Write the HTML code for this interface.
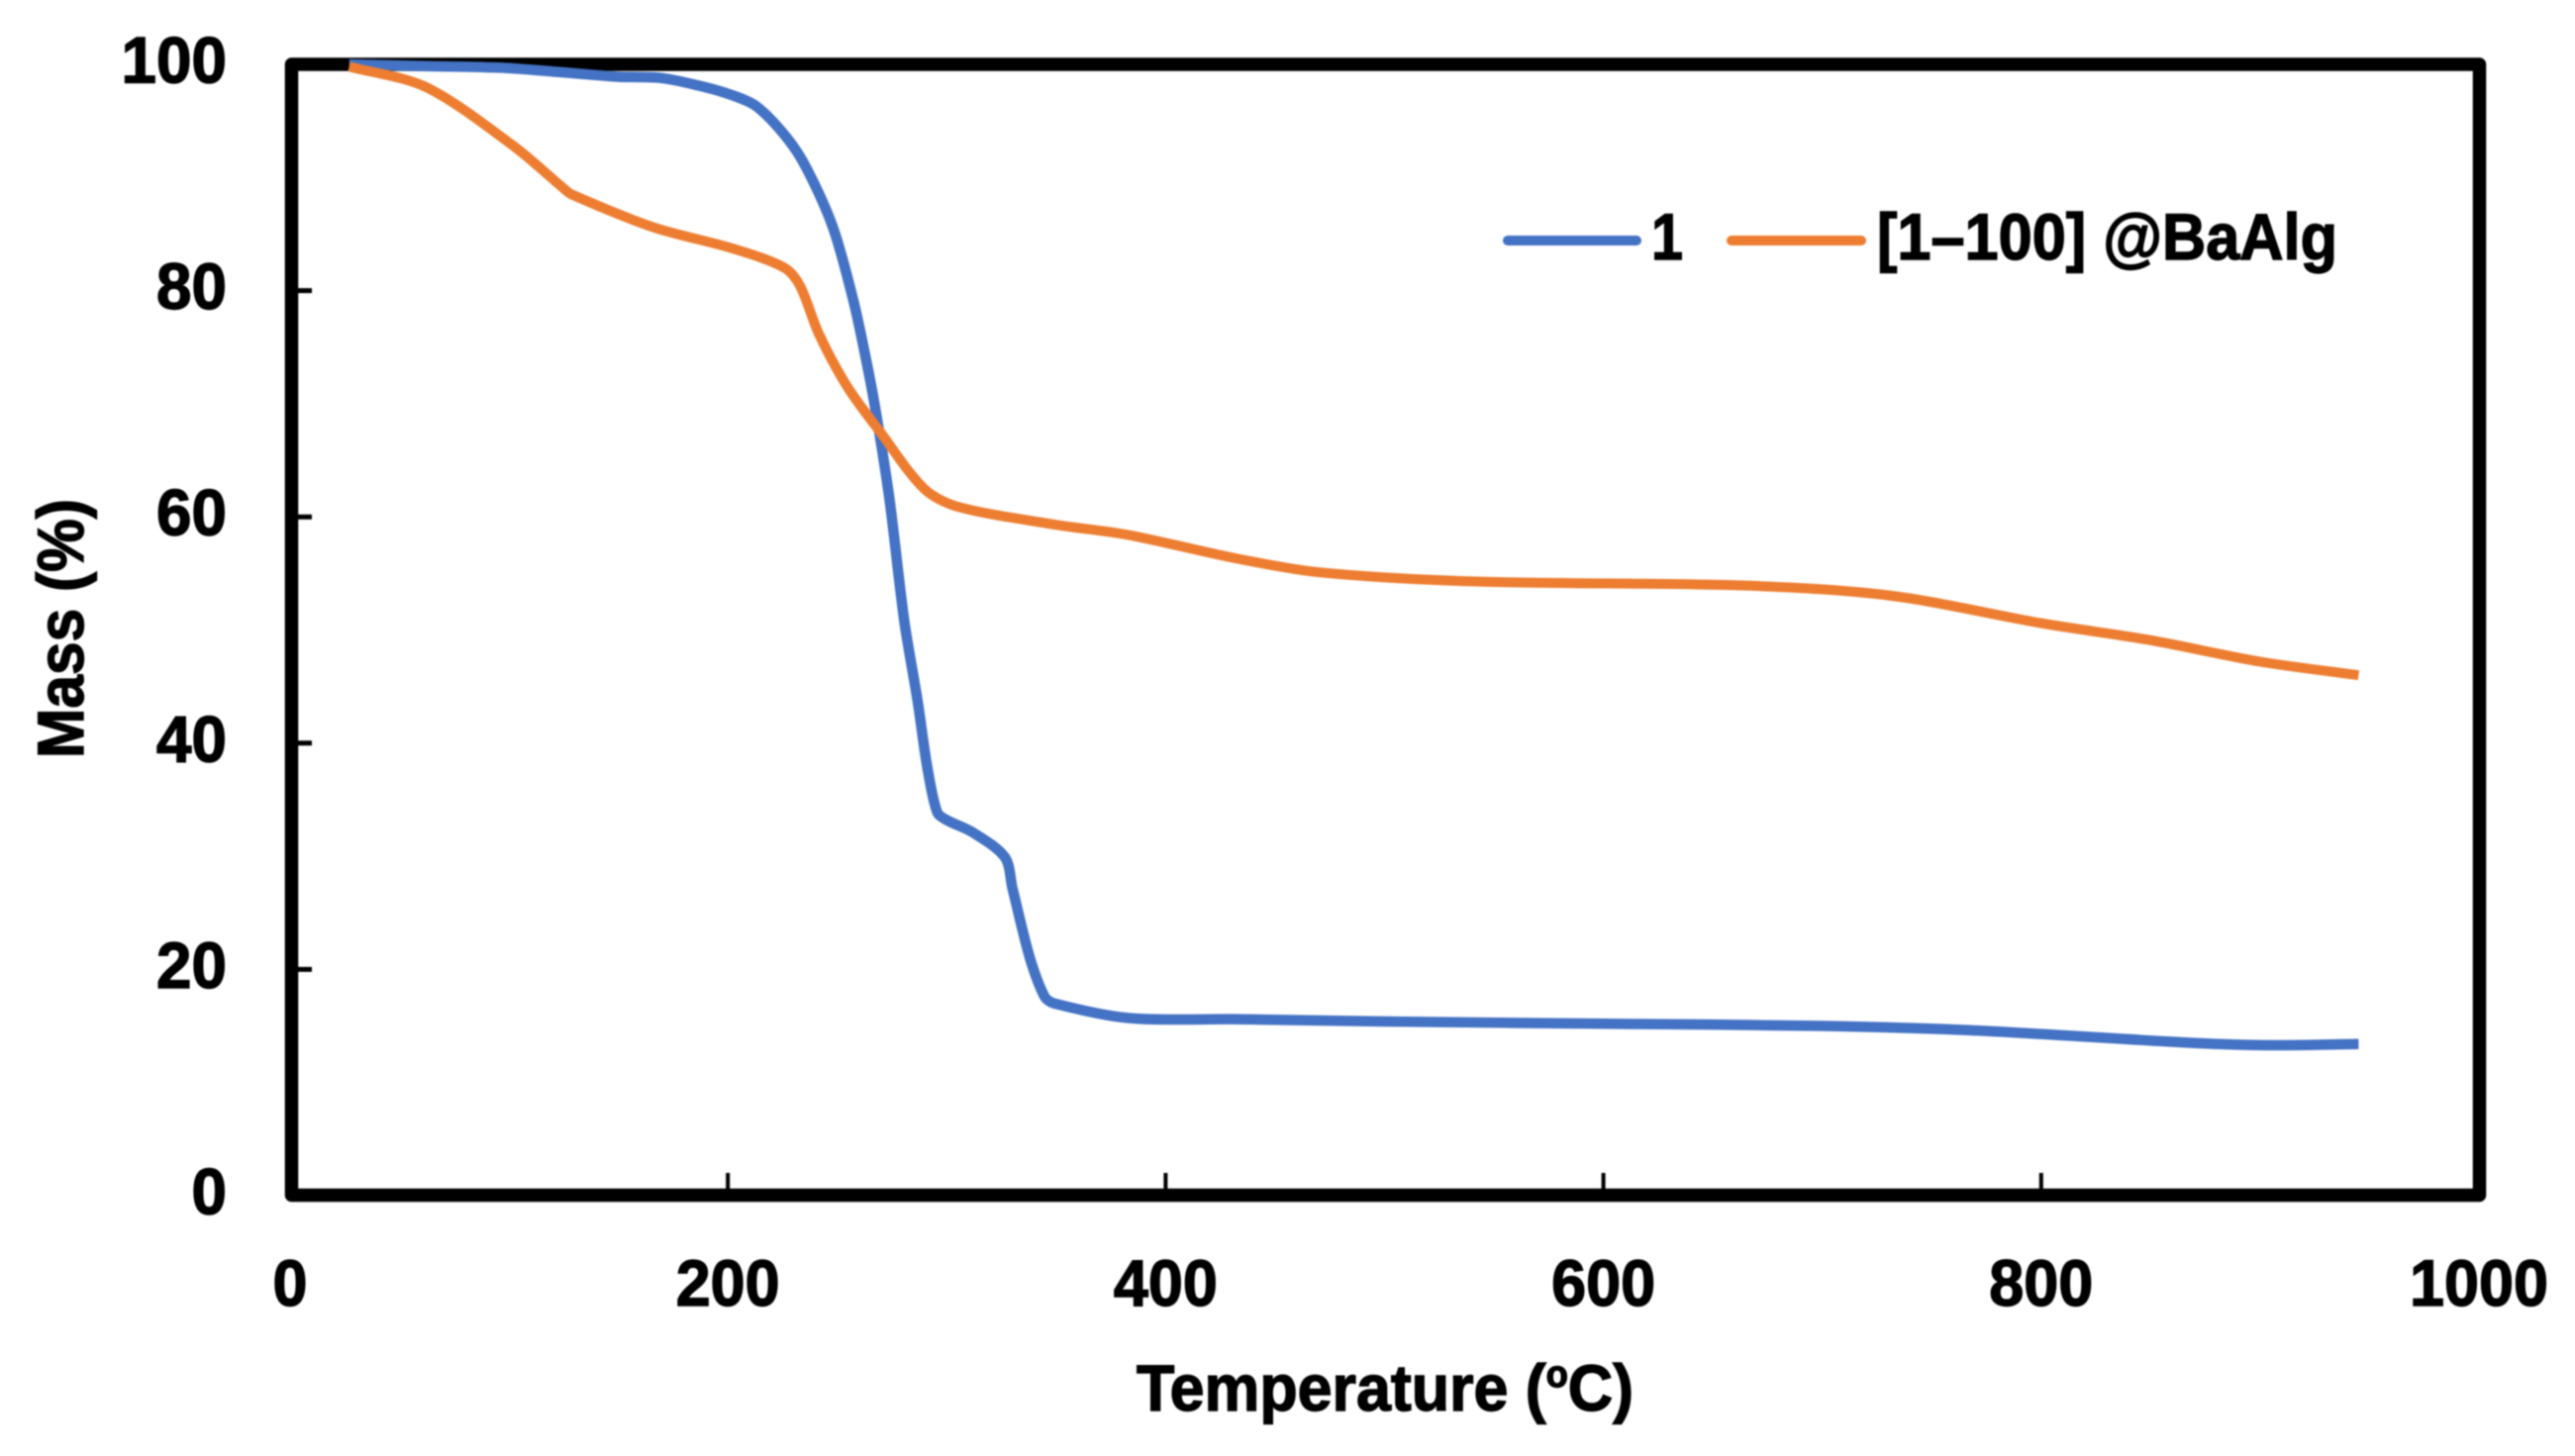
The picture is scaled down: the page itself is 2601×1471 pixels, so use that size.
<!DOCTYPE html>
<html>
<head>
<meta charset="utf-8">
<title>TGA curves</title>
<style>
html,body{margin:0;padding:0;background:#fff;}
svg{display:block;filter:blur(0.7px);}
text{font-family:"Liberation Sans",sans-serif;font-weight:bold;fill:#000;stroke:#000;stroke-width:1.4px;}
</style>
</head>
<body>
<svg id="chart" xmlns="http://www.w3.org/2000/svg" width="2601" height="1471" viewBox="0 0 2601 1471">
  <rect x="0" y="0" width="2601" height="1471" fill="#ffffff"/>
  <g id="ticks"></g>
  <rect x="294.5" y="65" width="2210" height="1142.5" fill="none" stroke="#000" stroke-width="13.5" stroke-linejoin="round"/>
  <g id="labels"></g>
  <g id="series"></g>
  <text x="1148" y="1425" font-size="66" textLength="502" lengthAdjust="spacingAndGlyphs">Temperature (<tspan font-size="38" dy="-24">o</tspan><tspan dy="24">C)</tspan></text>
  <text transform="translate(84,766) rotate(-90)" x="0" y="0" font-size="66" textLength="262" lengthAdjust="spacingAndGlyphs">Mass (%)</text>
  <g>
    <line x1="1523" y1="243" x2="1653" y2="243" stroke="#4472C4" stroke-width="10" stroke-linecap="round"/>
    <text x="1668" y="262" font-size="66" textLength="32" lengthAdjust="spacingAndGlyphs">1</text>
    <line x1="1749" y1="243" x2="1880" y2="243" stroke="#ED7D31" stroke-width="10" stroke-linecap="round"/>
    <text x="1896" y="262" font-size="66" textLength="465" lengthAdjust="spacingAndGlyphs">[1–100] @BaAlg</text>
  </g>
</svg>
<script>
const xTicks = [0, 200, 400, 600, 800, 1000];
const yTicks = [0, 20, 40, 60, 80, 100];
const blueTemps = [27, 60, 96, 130, 150, 169, 185, 200, 213, 227, 236, 248, 257, 262, 267, 273.8, 280.6, 286.7, 291, 295.6, 300, 312, 326.6, 330, 338, 344.7, 349, 383, 433, 500, 600, 700, 770, 870, 905, 945];
const blueMass = [100, 99.85, 99.7, 99.2, 98.9, 98.8, 98.2, 97.4, 96.3, 93.5, 90.8, 85.6, 79.4, 75, 70, 61.6, 50.8, 43.7, 38, 33.9, 33.2, 32.1, 29.9, 27.2, 21, 17.6, 17, 15.7, 15.6, 15.4, 15.2, 15, 14.6, 13.5, 13.3, 13.4];
const orangeTemps = [27, 62, 102, 124.6, 128.6, 166, 202.6, 226, 233, 241.5, 254.6, 270, 289.6, 305, 350, 383, 433, 470, 540, 650, 700, 740, 800, 850, 900, 945];
const orangeMass = [99.8, 98, 92.8, 89.1, 88.5, 85.6, 83.7, 82, 80.4, 76.2, 71.5, 67.4, 62.5, 60.9, 59.3, 58.4, 56.3, 55.1, 54.3, 54, 53.6, 52.8, 50.6, 49.1, 47.2, 46];

const SVG_NS = 'http://www.w3.org/2000/svg';
function xScale(v) { return 293 + 2.211 * v; }
function yScale(v) { return 1208 - 11.43 * v; }

const ticksGroup = document.getElementById('ticks');
const labelsGroup = document.getElementById('labels');
const seriesGroup = document.getElementById('series');

xTicks.forEach(function (t) {
  const tick = document.createElementNS(SVG_NS, 'line');
  
  
  tick.setAttribute('x1', xScale(t));
  tick.setAttribute('x2', xScale(t));
  tick.setAttribute('y1', 1185);
  tick.setAttribute('y2', 1205);
  tick.setAttribute('stroke', '#000');
  tick.setAttribute('stroke-width', 4);
  ticksGroup.appendChild(tick);

  const label = document.createElementNS(SVG_NS, 'text');
  
  
  const text = String(t);
  const w = text.length * 35;
  label.setAttribute('x', xScale(t) - w / 2);
  label.setAttribute('y', 1319);
  label.setAttribute('font-size', 66);
  label.setAttribute('textLength', w);
  label.setAttribute('lengthAdjust', 'spacingAndGlyphs');
  label.textContent = text;
  labelsGroup.appendChild(label);
});

yTicks.forEach(function (t) {
  const tick = document.createElementNS(SVG_NS, 'line');
  
  
  tick.setAttribute('x1', 297);
  tick.setAttribute('x2', 315);
  tick.setAttribute('y1', yScale(t));
  tick.setAttribute('y2', yScale(t));
  tick.setAttribute('stroke', '#000');
  tick.setAttribute('stroke-width', 5);
  ticksGroup.appendChild(tick);

  const label = document.createElementNS(SVG_NS, 'text');
  
  
  const text = String(t);
  const w = text.length * 35.5;
  label.setAttribute('x', 229 - w);
  label.setAttribute('y', yScale(t) + 18.5);
  label.setAttribute('font-size', 66);
  label.setAttribute('textLength', w);
  label.setAttribute('lengthAdjust', 'spacingAndGlyphs');
  label.textContent = text;
  labelsGroup.appendChild(label);
});

function smoothPath(temps, mass) {
  const pts = temps.map(function (t, i) {
    return [xScale(t), yScale(mass[i])];
  });
  let d = 'M' + pts[0][0].toFixed(1) + ',' + pts[0][1].toFixed(1);
  for (let i = 0; i < pts.length - 1; i++) {
    const p0 = pts[Math.max(i - 1, 0)];
    const p1 = pts[i];
    const p2 = pts[i + 1];
    const p3 = pts[Math.min(i + 2, pts.length - 1)];
    const segLen = Math.hypot(p2[0] - p1[0], p2[1] - p1[1]);
    const in1 = Math.hypot(p2[0] - p0[0], p2[1] - p0[1]) || 1;
    const in2 = Math.hypot(p3[0] - p1[0], p3[1] - p1[1]) || 1;
    const k = 0.3 * segLen;
    const c1x = p1[0] + (p2[0] - p0[0]) / in1 * k;
    const c1y = p1[1] + (p2[1] - p0[1]) / in1 * k;
    const c2x = p2[0] - (p3[0] - p1[0]) / in2 * k;
    const c2y = p2[1] - (p3[1] - p1[1]) / in2 * k;
    d += ' C' + c1x.toFixed(1) + ',' + c1y.toFixed(1) + ' ' + c2x.toFixed(1) + ',' + c2y.toFixed(1) + ' ' + p2[0].toFixed(1) + ',' + p2[1].toFixed(1);
  }
  return d;
}

const blueLine = document.createElementNS(SVG_NS, 'path');


blueLine.setAttribute('d', smoothPath(blueTemps, blueMass));
blueLine.setAttribute('fill', 'none');
blueLine.setAttribute('stroke', '#4472C4');
blueLine.setAttribute('stroke-width', 10.5);
blueLine.setAttribute('stroke-linejoin', 'round');
seriesGroup.appendChild(blueLine);

const orangeLine = document.createElementNS(SVG_NS, 'path');


orangeLine.setAttribute('d', smoothPath(orangeTemps, orangeMass));
orangeLine.setAttribute('fill', 'none');
orangeLine.setAttribute('stroke', '#ED7D31');
orangeLine.setAttribute('stroke-width', 10);
orangeLine.setAttribute('stroke-linejoin', 'round');
seriesGroup.appendChild(orangeLine);
</script>
</body>
</html>
